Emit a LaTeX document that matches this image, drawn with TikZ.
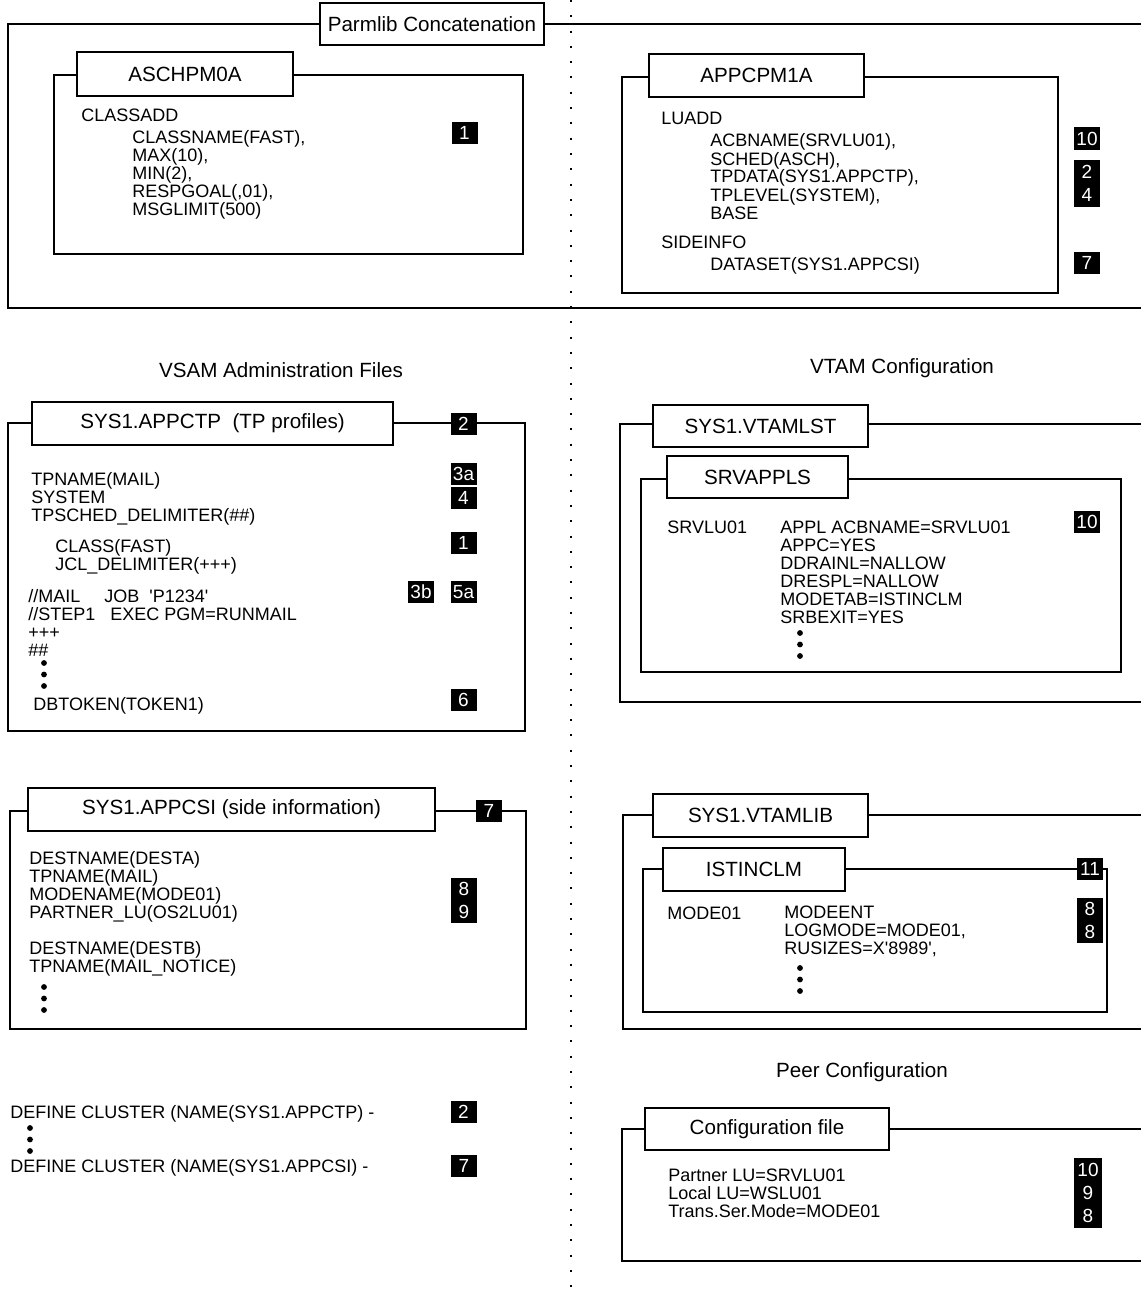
\documentclass[tikz,border=0pt]{standalone}
\usepackage{fontspec}
\setmainfont{Liberation Sans}
\usetikzlibrary{positioning}
\newcommand\vdotsat[2]{\foreach \d in {0,1,2} \fill (#1,{#2+\d*11.5}) circle (1.45pt);}

\begin{document}
\begin{tikzpicture}[x=0.5pt,y=-0.5pt,
  frame/.style={line width=1pt},
  title/.style={draw,line width=1pt,fill=white,inner sep=0pt,font=\fontsize{10.3}{12}\selectfont},
  head/.style={inner sep=0pt,font=\fontsize{10.3}{12}\selectfont},
  code/.style={anchor=base west,inner sep=0pt,align=left,font=\fontsize{9}{9}\selectfont},
  tag/.style={fill=black,text=white,inner sep=0pt,align=center,minimum width=13pt,minimum height=11pt,font=\fontsize{9.5}{11.5}\selectfont}
]
\useasboundingbox (0,0) rectangle (1140,1295);
\draw[line width=1pt,dash pattern=on 1pt off 6.65pt] (571,0) -- (571,1295);

% Parmlib
\draw[frame] (1141,24) -| (8,308) -- (1141,308);
\node[title,minimum width=112pt,minimum height=21pt] (parmlib) at (432,24) {Parmlib Concatenation};

\draw[frame] (54,75) rectangle (523,254);
\node[title,minimum width=108pt,minimum height=22pt] (aschpm) at (185,74) {ASCHPM0A};
\node[code] (classadd) at (81,121) {CLASSADD};
\node[code] (classparms) at (132,215) {CLASSNAME(FAST),\\MAX(10),\\MIN(2),\\RESPGOAL(,01),\\MSGLIMIT(500)};
\node[tag] (parmone) at (464.5,133) {1};

\draw[frame] (622,77) rectangle (1058,293);
\node[title,minimum width=107.5pt,minimum height=21.5pt] (appcpm) at (756.5,75.5) {APPCPM1A};
\node[code] (luadd) at (661,125) {LUADD};
\node[code] (luparms) at (710,219) {ACBNAME(SRVLU01),\\SCHED(ASCH),\\TPDATA(SYS1.APPCTP),\\TPLEVEL(SYSTEM),\\BASE};
\node[code] (sideinfo) at (661,248) {SIDEINFO};
\node[code] (dataset) at (710,270) {DATASET(SYS1.APPCSI)};
\node[tag] (luten) at (1087,138.5) {10};
\node[tag,minimum height=23.5pt] (lutwofour) at (1087,183.5) {2\\4};
\node[tag] (luseven) at (1087,263) {7};

% VSAM
\node[head] (vsam) at (281,370) {VSAM Administration Files};

\draw[frame] (8,423) rectangle (525,731);
\node[title,minimum width=180.5pt,minimum height=21.5pt] (appctp) at (212.5,423.5) {SYS1.APPCTP\ \ (TP profiles)};
\node[tag] (tptwo) at (463.5,424) {2};
\node[code] (tpname) at (31,521) {TPNAME(MAIL)\\SYSTEM\\TPSCHED\_DELIMITER(\#\#)};
\node[code] (tpclass) at (55,570) {CLASS(FAST)\\JCL\_DELIMITER(+++)};
\node[code] (tpjcl) at (28,656) {\makebox[38pt][l]{//MAIL}\makebox[22.5pt][l]{JOB}\textquotesingle P1234\textquotesingle\\\makebox[41pt][l]{//STEP1}EXEC PGM=RUNMAIL\\+++\\\#\#};
\vdotsat{44}{663}
\node[code] (dbtoken) at (33,710) {DBTOKEN(TOKEN1)};
\node[tag] (tpthreea) at (463.5,473.5) {3a};
\node[tag] (tpfour) at (463.5,498) {4};
\node[tag] (tpone) at (463.5,543) {1};
\node[tag] (tpthreeb) at (421,592) {3b};
\node[tag] (tpfivea) at (463.5,592) {5a};
\node[tag] (tpsix) at (463.5,700) {6};

\draw[frame] (10,811) rectangle (526,1029);
\node[title,minimum width=203.5pt,minimum height=21.5pt] (appcsi) at (231.5,809.5) {SYS1.APPCSI (side information)};
\node[tag] (siseven) at (489,810.5) {7};
\node[code] (desta) at (29,918.5) {DESTNAME(DESTA)\\TPNAME(MAIL)\\MODENAME(MODE01)\\PARTNER\_LU(OS2LU01)};
\node[code] (destb) at (29,972.5) {DESTNAME(DESTB)\\TPNAME(MAIL\_NOTICE)};
\vdotsat{44}{987}
\node[tag,minimum height=22.5pt] (sieightnine) at (464,900.5) {8\\9};

\node[code] (definetp) at (10,1118) {DEFINE CLUSTER (NAME(SYS1.APPCTP) -};
\vdotsat{30}{1128}
\node[code] (definesi) at (10,1172.5) {DEFINE CLUSTER (NAME(SYS1.APPCSI) -};
\node[tag] (deftwo) at (463.5,1112) {2};
\node[tag] (defseven) at (464,1166) {7};

% VTAM
\node[head] (vtam) at (902,368) {VTAM Configuration};

\draw[frame] (1141,424) -| (620,702) -- (1141,702);
\node[title,minimum width=107.5pt,minimum height=21pt] (vtamlst) at (760.5,426) {SYS1.VTAMLST};
\draw[frame] (641,479) rectangle (1121,672);
\node[title,minimum width=90.5pt,minimum height=21pt] (srvappls) at (757.5,477) {SRVAPPLS};
\node[code] (srvlu) at (667,533) {SRVLU01};
\node[code] (applparms) at (780,623) {APPL ACBNAME=SRVLU01\\APPC=YES\\DDRAINL=NALLOW\\DRESPL=NALLOW\\MODETAB=ISTINCLM\\SRBEXIT=YES};
\vdotsat{800}{633}
\node[tag] (applten) at (1087,522) {10};

\draw[frame] (1141,815) -| (623,1029) -- (1141,1029);
\node[title,minimum width=107.5pt,minimum height=21.5pt] (vtamlib) at (760.5,815.5) {SYS1.VTAMLIB};
\draw[frame] (643,869) rectangle (1107,1012);
\node[title,minimum width=91pt,minimum height=21.5pt] (istinclm) at (754,869.5) {ISTINCLM};
\node[tag] (modeeleven) at (1090,868.5) {11};
\node[code] (modeone) at (667,919) {MODE01};
\node[code] (modeent) at (784,954.5) {MODEENT\\LOGMODE=MODE01,\\RUSIZES=X\textquotesingle 8989\textquotesingle,};
\vdotsat{800}{968}
\node[tag,minimum height=22.5pt] (modeeight) at (1090,920.5) {8\\8};

% Peer
\node[head] (peer) at (862,1072) {Peer Configuration};

\draw[frame] (1141,1129) -| (622,1261) -- (1141,1261);
\node[title,minimum width=122pt,minimum height=21pt] (config) at (767,1129) {Configuration file};
\node[code] (partner) at (668,1217) {Partner LU=SRVLU01\\Local LU=WSLU01\\Trans.Ser.Mode=MODE01};
\node[tag,minimum width=14pt,minimum height=35pt] (peertags) at (1088,1193) {10\\9\\8};
\end{tikzpicture}
\end{document}
